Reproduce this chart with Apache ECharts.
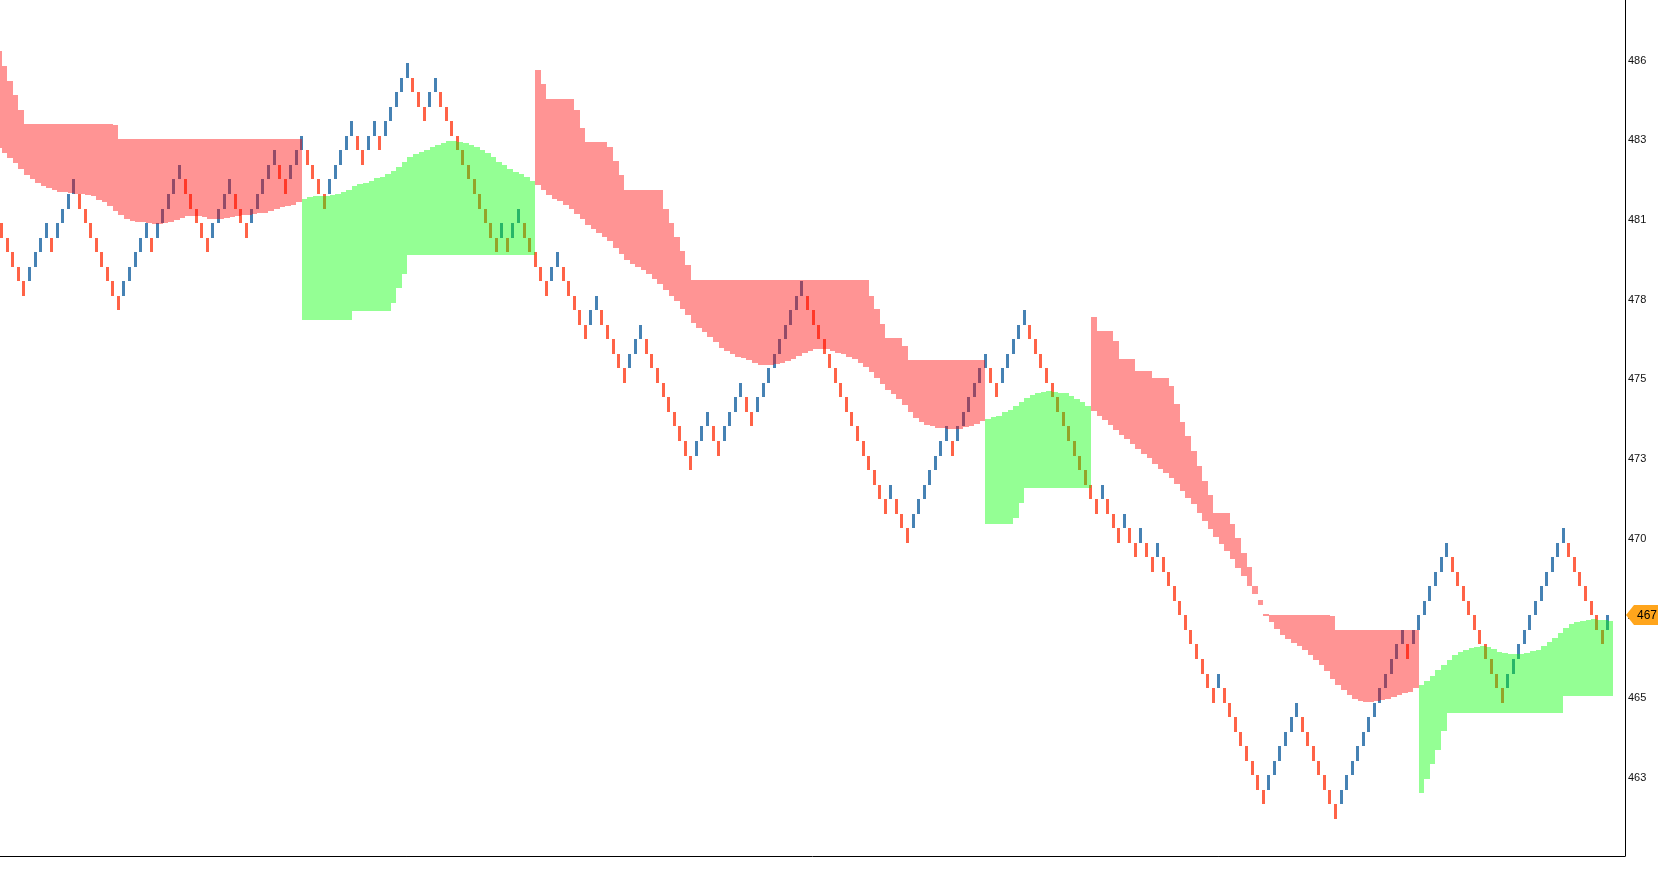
<!DOCTYPE html>
<html>
<head>
<meta charset="utf-8">
<title>Renko</title>
<script src="https://cdn.jsdelivr.net/npm/echarts@6.0.0/dist/echarts.min.js"></script>
<style>
  html, body { margin: 0; padding: 0; background: #fff; }
  #chart { width: 1658px; height: 877px; }
</style>
</head>
<body>
<div id="chart"></div>
<script>
// all levels are in brick units, level 0 = basePrice
const brickSize = 0.467
const basePrice = 478.14

// closing level of every renko brick, left to right
const brickLevels = [
  5, 4, 3, 2, 1, 3, 4, 5, 6, 4,
  6, 7, 8, 9, 7, 6, 5, 4, 3, 2,
  1, 0, 2, 3, 4, 5, 6, 4, 6, 7,
  8, 9, 10, 8, 7, 6, 5, 4, 6, 7,
  8, 9, 7, 6, 5, 7, 8, 9, 10, 11,
  9, 8, 10, 11, 12, 10, 9, 8, 7, 9,
  10, 11, 12, 13, 11, 10, 12, 13, 11, 13,
  14, 15, 16, 17, 15, 14, 13, 15, 16, 14,
  13, 12, 11, 10, 9, 8, 7, 6, 5, 4,
  6, 4, 6, 7, 5, 4, 3, 2, 1, 3,
  4, 2, 1, 0, -1, -2, 0, 1, -1, -2,
  -3, -4, -5, -3, -2, -1, -3, -4, -5, -6,
  -7, -8, -9, -10, -11, -9, -8, -7, -9, -10,
  -8, -7, -6, -5, -7, -8, -6, -5, -4, -3,
  -2, -1, 0, 1, 2, 0, -1, -2, -3, -4,
  -5, -6, -7, -8, -9, -10, -11, -12, -13, -14,
  -12, -14, -15, -16, -14, -13, -12, -11, -10, -9,
  -8, -10, -8, -7, -6, -5, -4, -3, -5, -6,
  -4, -3, -2, -1, 0, -2, -3, -4, -5, -6,
  -7, -8, -9, -10, -11, -12, -13, -14, -12, -14,
  -15, -16, -14, -16, -17, -15, -17, -18, -16, -18,
  -19, -20, -21, -22, -23, -24, -25, -26, -27, -25,
  -27, -28, -29, -30, -31, -32, -33, -34, -32, -31,
  -30, -29, -28, -27, -29, -30, -31, -32, -33, -34,
  -35, -33, -32, -31, -30, -29, -28, -27, -26, -25,
  -24, -23, -22, -24, -22, -21, -20, -19, -18, -17,
  -16, -18, -19, -20, -21, -22, -23, -24, -25, -26,
  -27, -25, -24, -23, -22, -21, -20, -19, -18, -17,
  -16, -15, -17, -18, -19, -20, -21, -22, -23, -21
]

// smooth average line, one value per column
// (the first column sits just before the first brick)
const maLevels = [
  11.17,
  10.81, 10.5, 10.14, 9.73, 9.32, 9.01, 8.74, 8.58, 8.42, 8.24,
  8.11, 8.11, 8.06, 8.02, 7.99, 7.95, 7.84, 7.61, 7.43, 7.16,
  6.82, 6.53, 6.26, 6.15, 6.04, 6.04, 5.99, 5.9, 5.9, 5.99,
  6.08, 6.19, 6.37, 6.49, 6.49, 6.49, 6.44, 6.31, 6.26, 6.31,
  6.37, 6.44, 6.49, 6.58, 6.58, 6.62, 6.67, 6.71, 6.82, 6.94,
  7.09, 7.16, 7.27, 7.45, 7.68, 7.82, 7.88, 7.88, 7.84, 7.91,
  8.02, 8.13, 8.29, 8.56, 8.69, 8.74, 8.92, 9.12, 9.19, 9.37,
  9.59, 9.86, 10.18, 10.54, 10.72, 10.88, 11.01, 11.22, 11.4, 11.53,
  11.62, 11.62, 11.6, 11.53, 11.4, 11.22, 11.04, 10.81, 10.54, 10.2,
  9.98, 9.73, 9.5, 9.37, 9.19, 8.9, 8.63, 8.29, 7.95, 7.67,
  7.55, 7.27, 6.94, 6.64, 6.26, 5.88, 5.59, 5.32, 5.05, 4.73,
  4.3, 3.9, 3.49, 3.15, 2.95, 2.75, 2.48, 2.16, 1.8, 1.4,
  0.99, 0.61, 0.11, -0.34, -0.88, -1.22, -1.53, -1.85, -2.18, -2.57,
  -2.84, -3.02, -3.2, -3.27, -3.42, -3.65, -3.74, -3.78, -3.78, -3.69,
  -3.6, -3.49, -3.36, -3.15, -2.93, -2.79, -2.68, -2.64, -2.67, -2.79,
  -2.93, -3.02, -3.2, -3.38, -3.65, -3.92, -4.28, -4.68, -5.05, -5.5,
  -5.79, -6.13, -6.53, -7.03, -7.39, -7.7, -7.88, -8.0, -8.09, -8.11,
  -8.15, -8.18, -8.15, -8.04, -7.97, -7.82, -7.61, -7.48, -7.36, -7.25,
  -7.03, -6.85, -6.62, -6.35, -6.04, -5.83, -5.68, -5.61, -5.56, -5.61,
  -5.68, -5.72, -5.9, -6.08, -6.35, -6.62, -6.95, -7.29, -7.56, -7.89,
  -8.24, -8.57, -8.88, -9.21, -9.55, -9.88, -10.19, -10.59, -10.9, -11.23,
  -11.58, -11.98, -12.47, -12.89, -13.36, -13.95, -14.49, -15.05, -15.59, -16.08,
  -16.58, -17.14, -17.73, -18.31, -18.95, -19.56, -20.26, -21.04, -21.44, -21.93,
  -22.33, -22.61, -22.89, -23.13, -23.38, -23.71, -24.09, -24.44, -24.84, -25.37,
  -25.82, -26.12, -26.47, -26.75, -26.89, -26.96, -26.96, -26.91, -26.82, -26.75,
  -26.63, -26.47, -26.35, -26.24, -26.0, -25.77, -25.54, -25.14, -24.79, -24.42,
  -24.05, -23.74, -23.53, -23.37, -23.25, -23.21, -23.14, -23.21, -23.32, -23.49,
  -23.6, -23.67, -23.67, -23.63, -23.58, -23.46, -23.35, -23.09, -22.86, -22.55,
  -22.23, -21.88, -21.62, -21.48, -21.37, -21.3, -21.27, -21.3, -21.34, -21.39
]

// stepped trailing stop, same columns as maLevels
const stopLevels = [
  17.82,
  16.8, 15.79, 14.82, 13.81, 12.82, 12.82, 12.82, 12.82, 12.82, 12.82,
  12.82, 12.82, 12.82, 12.82, 12.82, 12.82, 12.82, 12.82, 12.82, 12.82,
  12.75, 11.8, 11.8, 11.8, 11.8, 11.8, 11.8, 11.8, 11.8, 11.8,
  11.8, 11.8, 11.8, 11.8, 11.8, 11.8, 11.8, 11.8, 11.8, 11.8,
  11.8, 11.8, 11.8, 11.8, 11.8, 11.8, 11.8, 11.8, 11.8, 11.8,
  11.8, 11.8, 11.8, 11.8, -0.68, -0.68, -0.68, -0.68, -0.68, -0.68,
  -0.68, -0.68, -0.68, -0.05, -0.05, -0.05, -0.05, -0.05, -0.05, -0.05,
  0.52, 1.53, 2.5, 3.78, 3.78, 3.78, 3.78, 3.78, 3.78, 3.78,
  3.78, 3.78, 3.78, 3.78, 3.78, 3.78, 3.78, 3.78, 3.78, 3.78,
  3.78, 3.78, 3.78, 3.78, 3.78, 3.78, 16.51, 15.54, 14.53, 14.53,
  14.53, 14.53, 14.53, 13.76, 12.57, 11.55, 11.55, 11.55, 11.55, 11.26,
  10.25, 9.3, 8.29, 8.29, 8.29, 8.29, 8.29, 8.29, 8.29, 7.0,
  5.99, 5.05, 4.05, 3.09, 2.08, 2.08, 2.08, 2.08, 2.08, 2.08,
  2.08, 2.08, 2.08, 2.08, 2.08, 2.08, 2.08, 2.08, 2.08, 2.08,
  2.08, 2.08, 2.08, 2.08, 2.08, 2.08, 2.08, 2.08, 2.08, 2.08,
  2.08, 2.08, 2.08, 2.08, 2.08, 2.08, 0.99, 0.05, -0.97, -1.91,
  -1.91, -1.91, -2.45, -3.4, -3.4, -3.4, -3.4, -3.4, -3.4, -3.4,
  -3.4, -3.4, -3.4, -3.4, -3.4, -3.4, -3.4, -14.73, -14.73, -14.73,
  -14.73, -14.73, -14.28, -13.27, -12.21, -12.21, -12.21, -12.21, -12.21, -12.21,
  -12.21, -12.21, -12.21, -12.21, -12.21, -12.21, -0.46, -1.4, -1.4, -1.4,
  -2.14, -3.38, -3.38, -3.38, -4.16, -4.16, -4.16, -4.65, -4.65, -4.65,
  -5.19, -6.46, -7.7, -8.67, -9.72, -10.69, -11.72, -12.7, -13.95, -13.95,
  -13.95, -14.72, -15.69, -16.72, -17.7, -18.97, -19.93, -20.9, -20.97, -20.97,
  -20.97, -20.97, -20.97, -20.97, -20.97, -20.97, -20.97, -20.97, -20.97, -21.02,
  -22, -22, -22, -22, -22, -22, -22, -22, -22, -22,
  -22, -22, -22, -22, -22, -33.23, -32.25, -31.2, -30.25, -28.96,
  -27.71, -27.71, -27.71, -27.71, -27.71, -27.71, -27.71, -27.71, -27.71, -27.71,
  -27.71, -27.71, -27.71, -27.71, -27.71, -27.71, -27.71, -27.71, -27.71, -27.71,
  -27.71, -26.52, -26.52, -26.52, -26.52, -26.52, -26.52, -26.52, -26.52, -26.52
]

// price axis ticks and the last price tag
const yTicks = [463.12, 465.68, 468.24, 470.80, 473.36, 475.92, 478.48, 481.04, 483.60, 486.16]
const lastPriceLabel = '467'

const toPrice = (k) => basePrice + k * brickSize

const bricks = brickLevels.map((k, i) => {
  const close = toPrice(k)
  const up = i > 0 && k > brickLevels[i - 1]
  const open = up ? close - brickSize : close + brickSize
  return [i, open, close]
})
// column i spans from brick i-1 to brick i
const cloud = maLevels.map((k, i) => [i - 1, toPrice(k), toPrice(stopLevels[i])])
const lastIndex = bricks.length - 1

const renderBrick = (params, api) => {
  const i = api.value(0)
  const open = api.value(1)
  const close = api.value(2)
  const top = api.coord([i, Math.max(open, close)])
  const bottom = api.coord([i, Math.min(open, close)])
  const y0 = Math.round(top[1])
  const y1 = Math.round(bottom[1])
  return {
    type: 'rect',
    shape: {x: Math.round(top[0] - 1.5), y: y0, width: 3, height: y1 - y0},
    style: {fill: close > open ? '#4682B4' : '#FF6347'}
  }
}

const renderCloud = (params, api) => {
  const i = api.value(0)
  const ma = api.value(1)
  const stop = api.value(2)
  const a = api.coord([i, Math.max(ma, stop)])
  const b = api.coord([i + 1, Math.min(ma, stop)])
  const x0 = Math.round(a[0])
  const x1 = Math.round(b[0])
  const y0 = Math.round(a[1])
  const y1 = Math.round(b[1])
  return {
    type: 'rect',
    shape: {x: x0, y: y0, width: x1 - x0, height: Math.max(y1 - y0, 1)},
    style: {fill: stop > ma ? 'rgba(255,0,0,0.42)' : 'rgba(0,255,0,0.42)'}
  }
}

const renderLastPrice = (params, api) => {
  const x = params.coordSys.x + params.coordSys.width
  const y = Math.round(api.coord([api.value(0), api.value(1)])[1])
  return {
    type: 'group',
    children: [
      {
        type: 'polygon',
        shape: {points: [[x + 1, y], [x + 9, y - 10], [x + 33, y - 10], [x + 33, y + 10], [x + 9, y + 10]]},
        style: {fill: '#FFA51C'}
      },
      {
        type: 'text',
        style: {
          text: lastPriceLabel, x: x + 12, y: y + 1,
          verticalAlign: 'middle', align: 'left',
          font: '12px "Liberation Sans", Arial, sans-serif', fill: '#000'
        }
      }
    ]
  }
}

const chart = echarts.init(document.getElementById('chart'))
chart.setOption({
  animation: false,
  backgroundColor: '#fff',
  grid: {left: 0, right: 33, top: 0, bottom: 21, outerBoundsMode: 'none'},
  xAxis: {
    type: 'value',
    min: -0.31,
    max: 292.1,
    axisLine: {show: true, onZero: false, lineStyle: {color: '#000', width: 1}},
    axisTick: {show: false},
    axisLabel: {show: false},
    splitLine: {show: false}
  },
  yAxis: {
    type: 'value',
    position: 'right',
    min: 460.6,
    max: 488.11,
    axisLine: {show: true, onZero: false, lineStyle: {color: '#000', width: 1}},
    axisTick: {show: false},
    splitLine: {show: false},
    axisLabel: {
      customValues: yTicks,
      formatter: (v) => String(Math.floor(v)),
      color: '#111',
      fontSize: 11,
      fontFamily: 'Liberation Sans',
      margin: 3
    }
  },
  series: [
    {type: 'custom', renderItem: renderBrick, data: bricks, encode: {x: 0, y: [1, 2]}, clip: true, z: 2},
    {type: 'custom', renderItem: renderCloud, data: cloud, encode: {x: 0, y: [1, 2]}, clip: true, z: 3},
    {
      type: 'custom', renderItem: renderLastPrice, clip: false, z: 10, silent: true,
      data: [[lastIndex, bricks[lastIndex][2]]], encode: {x: 0, y: 1}
    }
  ]
})
</script>
</body>
</html>
